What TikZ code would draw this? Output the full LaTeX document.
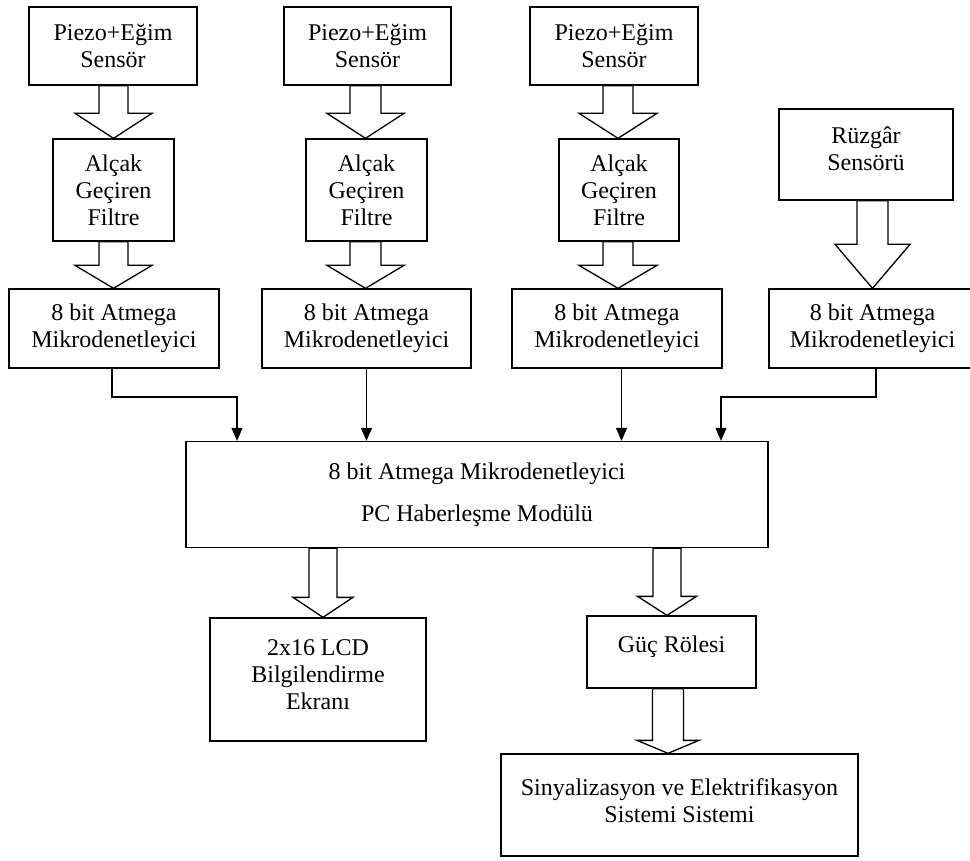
\documentclass[tikz,border=0pt]{standalone}
\usepackage{fontspec}
\setmainfont{Liberation Serif}
\usetikzlibrary{arrows.meta,calc}
\tikzset{
  boxnode/.style={draw=black, line width=1.3pt, fill=white, align=center, inner sep=0pt,
    font=\fontsize{24}{27}\selectfont, text=black},
  conn/.style={draw=black, line width=1.3pt, -{Triangle[length=13pt,width=11pt]}},
  fatarr/.style={draw=black, line width=1.3pt, fill=white, line join=miter}
}
\newcommand{\lift}[1]{\rule[-#1]{0pt}{1pt}}
% #1 x centre (px), #2 from anchor, #3 to anchor, #4 shaft half width, #5 head half width, #6 head length
\newcommand{\fatarrow}[6]{%
  \draw[fatarr] let \p1=(#2), \p2=(#3) in
    (#1pt-#4pt,\y1) -- (#1pt-#4pt,\y2+#6pt) -- (#1pt-#5pt,\y2+#6pt) -- (#1pt,\y2)
    -- (#1pt+#5pt,\y2+#6pt) -- (#1pt+#4pt,\y2+#6pt) -- (#1pt+#4pt,\y1) -- cycle;}
\begin{document}
\begin{tikzpicture}[x=1pt,y=-1pt]
\useasboundingbox (0,0) rectangle (970,861);
\clip (0,0) rectangle (970,861);
\fill[white] (0,0) rectangle (970,861);

% sensors
\node[boxnode, minimum width=168pt, minimum height=78pt] (s1) at (113,46) {Piezo+Eğim\\Sensör};
\node[boxnode, minimum width=167pt, minimum height=78pt] (s2) at (367.5,46) {Piezo+Eğim\\Sensör};
\node[boxnode, minimum width=168pt, minimum height=78pt] (s3) at (614,46) {Piezo+Eğim\\Sensör};
\node[boxnode, minimum width=174pt, minimum height=91pt] (rz) at (866,154.5) {Rüzgâr\\Sensörü\lift{12pt}};

% filters
\node[boxnode, minimum width=121pt, minimum height=102pt] (f1) at (113.5,190) {Alçak\\Geçiren\\Filtre};
\node[boxnode, minimum width=121pt, minimum height=102pt] (f2) at (366.5,190) {Alçak\\Geçiren\\Filtre};
\node[boxnode, minimum width=120pt, minimum height=102pt] (f3) at (619,190) {Alçak\\Geçiren\\Filtre};

% microcontrollers
\node[boxnode, minimum width=210pt, minimum height=79pt] (m1) at (114,328.5) {8 bit Atmega\\Mikrodenetleyici};
\node[boxnode, minimum width=209pt, minimum height=79pt] (m2) at (366.5,328.5) {8 bit Atmega\\Mikrodenetleyici};
\node[boxnode, minimum width=210pt, minimum height=79pt] (m3) at (617,328.5) {8 bit Atmega\\Mikrodenetleyici};
\node[boxnode, minimum width=207pt, minimum height=79pt] (m4) at (872.5,328.5) {8 bit Atmega\\Mikrodenetleyici};

% main box
\node[boxnode, minimum width=582pt, minimum height=106pt, font=\fontsize{24}{42}\selectfont] (big) at (477,494.5)
  {8 bit Atmega Mikrodenetleyici\\PC Haberleşme Modülü};

% outputs
\node[boxnode, minimum width=216pt, minimum height=123pt] (lcd) at (318,679.5) {2x16 LCD\\Bilgilendirme\\Ekranı\lift{9pt}};
\node[boxnode, minimum width=169pt, minimum height=72pt] (guc) at (671.5,652) {Güç Rölesi\lift{15pt}};
\node[boxnode, minimum width=357pt, minimum height=102pt] (sin) at (679.5,805) {Sinyalizasyon ve Elektrifikasyon\\Sistemi Sistemi\lift{9pt}};

% block arrows
\fatarrow{113.5}{s1.south}{f1.north}{14.5}{38.5}{25}
\fatarrow{113.5}{f1.south}{m1.north}{14.5}{38.5}{23}
\fatarrow{365.5}{s2.south}{f2.north}{15.5}{38.5}{25}
\fatarrow{365.5}{f2.south}{m2.north}{15.5}{38.5}{23}
\fatarrow{618}{s3.south}{f3.north}{15}{39}{25}
\fatarrow{618}{f3.south}{m3.north}{15}{39}{23}
\fatarrow{872.5}{rz.south}{m4.north}{15.5}{37.5}{44}
\fatarrow{323}{big.south}{lcd.north}{14}{30}{20}
\fatarrow{667}{big.south}{guc.north}{14}{29.5}{19}
\fatarrow{668}{guc.south}{sin.north}{15.5}{31}{13}

% thin connectors
\coordinate (j1) at (237,397);
\coordinate (j4) at (721,397);
\draw[conn] ([xshift=-2pt]m1.south) |- (j1) -- (j1 |- big.north);
\draw[conn] (m2.south) -- (m2.south |- big.north);
\draw[conn] ([xshift=4.5pt]m3.south) -- ([xshift=4.5pt]m3.south |- big.north);
\draw[conn] ([xshift=3.5pt]m4.south) |- (j4) -- (j4 |- big.north);
\end{tikzpicture}
\end{document}
